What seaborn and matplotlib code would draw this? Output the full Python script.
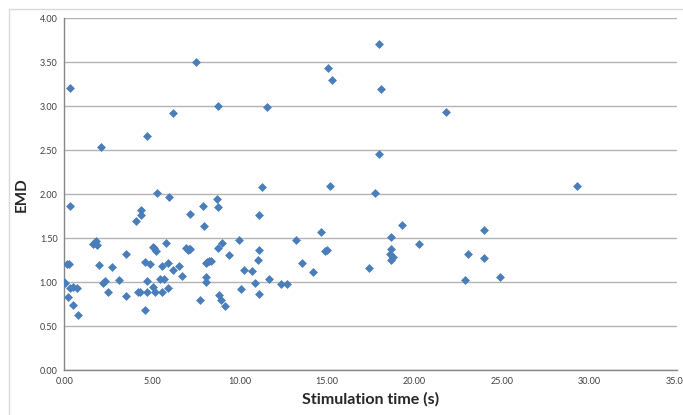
import matplotlib
matplotlib.use("Agg")
import matplotlib.pyplot as plt
import seaborn as sns
import pandas as pd
from matplotlib.lines import Line2D

# Tiempo de estimulacion (s) y EMD
tiempo = [0.00, 0.02, 0.16, 0.24, 0.30, 0.30, 0.22, 0.30, 0.50, 0.71, 0.50, 0.79,
          1.61, 1.70, 1.82, 1.86, 1.99, 2.10, 2.18, 2.32, 2.51, 2.70, 3.10, 3.50, 3.50,
          4.09, 4.39, 4.39, 4.22, 4.30, 4.58, 4.58, 4.70, 4.70, 4.72, 4.91, 5.06, 5.17,
          5.06, 5.14, 5.23, 5.31, 5.48, 5.71, 5.59, 5.59, 5.80, 5.90, 5.90, 5.99, 6.19,
          6.19, 6.56, 6.70, 6.96, 7.04, 7.12, 7.19, 7.18, 7.50, 7.77, 7.90, 7.99, 8.09,
          8.17, 8.24, 8.09, 8.09, 8.39, 8.70, 8.78, 8.79, 8.79, 9.00, 8.85, 8.95, 9.19,
          9.39, 9.99, 10.09, 10.28, 10.70, 10.87, 11.04, 11.10, 11.10, 11.10, 11.29,
          11.60, 11.69, 12.38, 12.70, 13.24, 13.58, 14.19, 14.68, 14.91, 14.99, 15.08,
          15.20, 15.29, 17.39, 17.77, 17.98, 17.98, 18.10, 18.69, 18.69, 18.62, 18.77,
          18.69, 19.28, 20.27, 21.80, 22.88, 23.09, 23.98, 23.98, 24.88, 29.28]
emd = [1.00, 0.99, 1.21, 1.21, 3.21, 1.87, 0.83, 0.93, 0.95, 0.93, 0.74, 0.63,
       1.44, 1.45, 1.47, 1.42, 1.20, 2.54, 0.99, 1.02, 0.89, 1.17, 1.03, 1.32, 0.84,
       1.70, 1.82, 1.76, 0.89, 0.89, 1.23, 0.68, 2.66, 1.02, 0.89, 1.21, 0.95, 0.89,
       1.40, 1.39, 1.36, 2.02, 1.04, 1.04, 1.18, 0.89, 1.45, 1.22, 0.94, 1.97, 1.14,
       2.92, 1.19, 1.07, 1.39, 1.37, 1.38, 1.38, 1.78, 3.50, 0.80, 1.87, 1.64, 1.22,
       1.23, 1.24, 1.06, 1.00, 1.24, 1.95, 3.00, 1.86, 1.39, 1.45, 0.85, 0.80, 0.73,
       1.31, 1.48, 0.92, 1.14, 1.13, 0.99, 1.25, 1.76, 1.37, 0.87, 2.08,
       2.99, 1.04, 0.98, 0.98, 1.48, 1.22, 1.12, 1.57, 1.36, 1.37, 3.44,
       2.09, 3.30, 1.16, 2.02, 3.71, 2.46, 3.20, 1.51, 1.38, 1.32, 1.29,
       1.25, 1.65, 1.44, 2.93, 1.03, 1.32, 1.59, 1.28, 1.06, 2.09]

x_ticks = [0, 5, 10, 15, 20, 25, 30, 35]
y_ticks = [0, 0.5, 1.0, 1.5, 2.0, 2.5, 3.0, 3.5, 4.0]

df = pd.DataFrame({"Stimulation time (s)": tiempo, "EMD": emd})

sns.set_style("white")
plt.rcParams["font.family"] = ["Lato", "DejaVu Sans"]

fig = plt.figure(figsize=(6.83, 4.15), dpi=100)
ax = fig.add_axes([0.0944, 0.1077, 0.8966, 0.8483])

sns.scatterplot(data=df, x="Stimulation time (s)", y="EMD", ax=ax,
                marker="D", s=16, color="#4A7EBB", edgecolor="#4A7EBB",
                linewidth=0.5, zorder=3)

ax.set_xlim(0, 35)
ax.set_ylim(0, 4)
ax.set_xticks(x_ticks)
ax.set_yticks(y_ticks)
ax.set_xticklabels([f"{v:.2f}" for v in x_ticks])
ax.set_yticklabels([f"{v:.2f}" for v in y_ticks])
ax.tick_params(axis="both", labelsize=6.5, colors="#404040", length=3,
               width=0.8, direction="out", pad=2)
ax.tick_params(axis="both", color="#868686")
ax.grid(axis="y", color="#B3B3B3", linewidth=1)
ax.grid(axis="x", visible=False)
ax.set_axisbelow(True)

for lado in ["top", "right"]:
    ax.spines[lado].set_visible(False)
for lado in ["left", "bottom"]:
    ax.spines[lado].set_color("#868686")
    ax.spines[lado].set_linewidth(1)

ax.set_xlabel("Stimulation time (s)", fontsize=11.5, fontweight="bold", labelpad=4)
ax.set_ylabel("EMD", fontsize=11, fontweight="bold", labelpad=8)

# borde del area del grafico (estilo Excel)
fig.add_artist(Line2D([9 / 683, 9 / 683], [0, 1 - 9 / 415], transform=fig.transFigure,
                      color="#D9D9D9", linewidth=1))
fig.add_artist(Line2D([9 / 683, 1], [1 - 9 / 415, 1 - 9 / 415], transform=fig.transFigure,
                      color="#D9D9D9", linewidth=1))

fig.savefig("out.png", dpi=100)
